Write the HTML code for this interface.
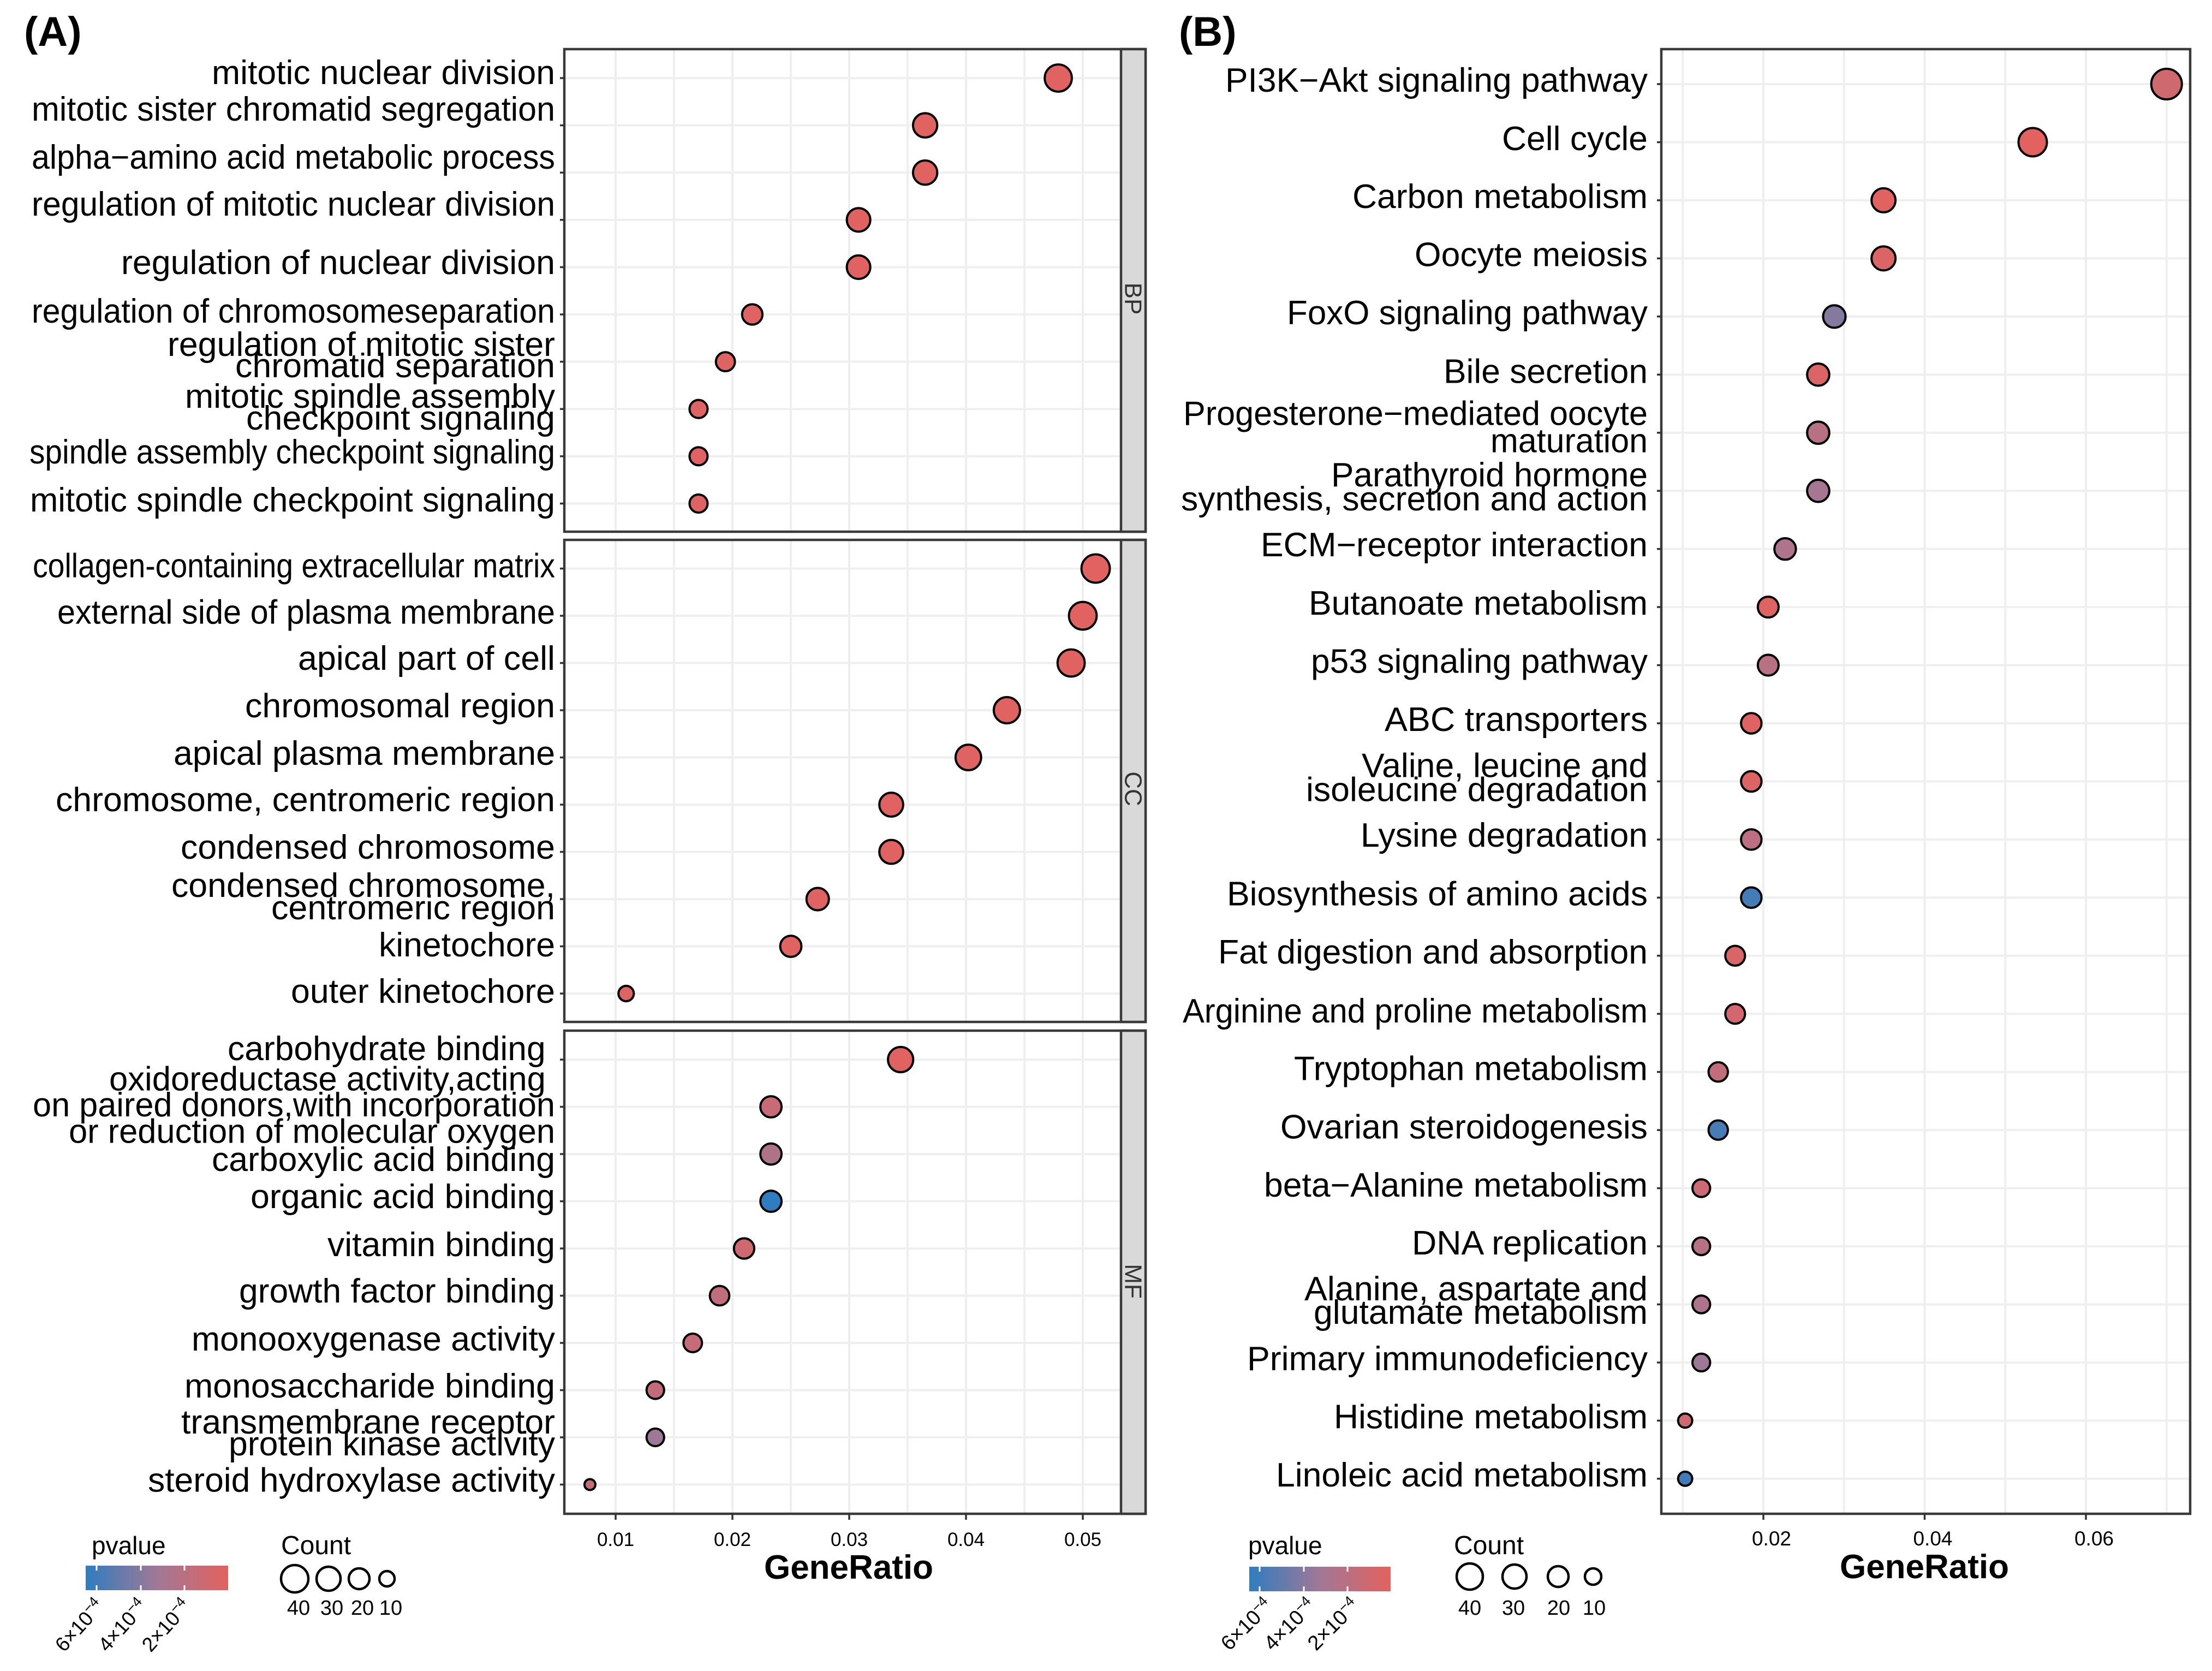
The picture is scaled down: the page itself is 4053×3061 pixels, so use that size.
<!DOCTYPE html>
<html lang="en">
<head>
<meta charset="utf-8">
<title>GO and KEGG enrichment dot plots</title>
<style>
html,body{margin:0;padding:0;background:#fff;}
svg{display:block;font-family:"Liberation Sans",Arial,sans-serif;}
</style>
</head>
<body>
<svg id="chart" xmlns="http://www.w3.org/2000/svg" width="4053" height="3061" viewBox="0 0 4053 3061">
  <defs>
    <linearGradient id="pgrad" x1="0" x2="1" y1="0" y2="0">
      <stop offset="0" stop-color="#2f7dc0"/>
      <stop offset="0.5" stop-color="#a07896"/>
      <stop offset="1" stop-color="#e3625f"/>
    </linearGradient>
  </defs>
  <rect width="4053" height="3061" fill="#fff"/>
  <text x="44" y="84" font-size="76" font-weight="700">(A)</text>
  <text x="2160" y="84" font-size="76" font-weight="700">(B)</text>
  <g id="layer-grid"></g>
  <g id="layer-frame"></g>
  <g id="layer-dots"></g>
  <g id="layer-text"></g>

  <text x="1555" y="2892" font-size="62" font-weight="700" text-anchor="middle">GeneRatio</text>
  <text x="3526" y="2891" font-size="62" font-weight="700" text-anchor="middle">GeneRatio</text>

  <g>
    <text x="168" y="2847" font-size="46">pvalue</text>
    <rect x="157" y="2868" width="261" height="45" fill="url(#pgrad)"/>
    <g stroke="#fff" stroke-width="3">
      <path d="M177 2868v9M177 2904v9M258 2868v9M258 2904v9M338 2868v9M338 2904v9"/>
    </g>
    <g font-size="37" text-anchor="end">
      <text transform="translate(193 2944) rotate(-48)">6×10<tspan font-size="26" dy="-14">−4</tspan></text>
      <text transform="translate(272 2944) rotate(-48)">4×10<tspan font-size="26" dy="-14">−4</tspan></text>
      <text transform="translate(352 2944) rotate(-48)">2×10<tspan font-size="26" dy="-14">−4</tspan></text>
    </g>
  </g>
  <g>
    <text x="515" y="2847" font-size="48">Count</text>
    <g fill="#fff" stroke="#000" stroke-width="4.5">
      <circle cx="540" cy="2892" r="25"/>
      <circle cx="602" cy="2892" r="22"/>
      <circle cx="658" cy="2892" r="19"/>
      <circle cx="709" cy="2892" r="14"/>
    </g>
    <g font-size="38" text-anchor="middle">
      <text x="547" y="2958">40</text>
      <text x="608" y="2958">30</text>
      <text x="664" y="2958">20</text>
      <text x="716" y="2958">10</text>
    </g>
  </g>

  <g>
    <text x="2287" y="2847" font-size="46">pvalue</text>
    <rect x="2289" y="2870" width="259" height="45" fill="url(#pgrad)"/>
    <g stroke="#fff" stroke-width="3">
      <path d="M2308 2870v9M2308 2906v9M2389 2870v9M2389 2906v9M2469 2870v9M2469 2906v9"/>
    </g>
    <g font-size="38" text-anchor="end">
      <text transform="translate(2334 2944) rotate(-45)">6×10<tspan font-size="26" dy="-14">−4</tspan></text>
      <text transform="translate(2413 2944) rotate(-45)">4×10<tspan font-size="26" dy="-14">−4</tspan></text>
      <text transform="translate(2493 2944) rotate(-45)">2×10<tspan font-size="26" dy="-14">−4</tspan></text>
    </g>
  </g>
  <g>
    <text x="2664" y="2847" font-size="48">Count</text>
    <g fill="#fff" stroke="#000" stroke-width="4.5">
      <circle cx="2693" cy="2888" r="24"/>
      <circle cx="2775" cy="2888" r="22"/>
      <circle cx="2855" cy="2888" r="19"/>
      <circle cx="2919" cy="2888" r="15"/>
    </g>
    <g font-size="38" text-anchor="middle">
      <text x="2693" y="2958">40</text>
      <text x="2773" y="2958">30</text>
      <text x="2856" y="2958">20</text>
      <text x="2921" y="2958">10</text>
    </g>
  </g>
</svg>
<script>
// ---------- Data ----------
const categoriesBP = ["mitotic nuclear division","mitotic sister chromatid segregation","alpha−amino acid metabolic process","regulation of mitotic nuclear division","regulation of nuclear division","regulation of chromosomeseparation","regulation of mitotic sister\nchromatid separation","mitotic spindle assembly\ncheckpoint signaling","spindle assembly checkpoint signaling","mitotic spindle checkpoint signaling"];
const geneRatioBP = [0.0479,0.0365,0.0365,0.0308,0.0308,0.0217,0.0194,0.0171,0.0171,0.0171];
const countBP = [39,30,30,28,28,20,17,15,15,15];
const pvalueBP = [0.00001,0.00001,0.00001,0.00001,0.00001,0.00002,0.00002,0.00002,0.00002,0.00002];

const categoriesCC = ["collagen-containing extracellular matrix","external side of plasma membrane","apical part of cell","chromosomal region","apical plasma membrane","chromosome, centromeric region","condensed chromosome","condensed chromosome,\ncentromeric region","kinetochore","outer kinetochore"];
const geneRatioCC = [0.0511,0.05,0.049,0.0435,0.0402,0.0336,0.0336,0.0273,0.025,0.0109];
const countCC = [43,41,39,36,34,29,29,25,22,10];
const pvalueCC = [0.00001,0.00001,0.00001,0.00001,0.00002,0.00001,0.00001,0.00002,0.00001,0.00003];

const categoriesMF = ["carbohydrate binding\u00A0","oxidoreductase activity,acting\u00A0\non paired donors,with incorporation\nor reduction of molecular oxygen","carboxylic acid binding","organic acid binding","vitamin binding","growth factor binding","monooxygenase activity","monosaccharide binding","transmembrane receptor\nprotein kinase activity","steroid hydroxylase activity"];
const geneRatioMF = [0.0344,0.0233,0.0233,0.0233,0.021,0.0189,0.0166,0.0134,0.0134,0.0078];
const countMF = [33,22,22,22,20,18,16,14,14,4];
const pvalueMF = [0.00001,0.000136,0.00025,0.00065,0.0001,0.00017,0.000145,0.000155,0.000335,0.00015];

const categoriesKEGG = ["PI3K−Akt signaling pathway","Cell cycle","Carbon metabolism","Oocyte meiosis","FoxO signaling pathway","Bile secretion","Progesterone−mediated oocyte\nmaturation","Parathyroid hormone\nsynthesis, secretion and action","ECM−receptor interaction","Butanoate metabolism","p53 signaling pathway","ABC transporters","Valine, leucine and\nisoleucine degradation","Lysine degradation","Biosynthesis of amino acids","Fat digestion and absorption","Arginine and proline metabolism","Tryptophan metabolism","Ovarian steroidogenesis","beta−Alanine metabolism","DNA replication","Alanine, aspartate and\nglutamate metabolism","Primary immunodeficiency","Histidine metabolism","Linoleic acid metabolism"];
const geneRatioKEGG = [0.07,0.0534,0.0349,0.0349,0.0288,0.0268,0.0268,0.0268,0.0227,0.0206,0.0206,0.0185,0.0185,0.0185,0.0185,0.0165,0.0165,0.0144,0.0144,0.0123,0.0123,0.0123,0.0123,0.0103,0.0103];
const countKEGG = [59,49,32,32,27,26,26,26,24,22,22,21,21,21,21,19,19,18,18,14,14,14,14,7,7];
const pvalueKEGG = [0.0001,0,0.00001,0.00004,0.0004,0.00004,0.00021,0.00029,0.00026,0.00002,0.00021,0.00002,0.00003,0.000195,0.00059,0.00005,0.00008,0.00016,0.00058,0.00012,0.00022,0.00026,0.00033,0.0001,0.0006];

const xTicksA = [0.01,0.02,0.03,0.04,0.05];
const xMinorA = [0.015,0.025,0.035,0.045,0.055];
const xTickLabelsA = ["0.01","0.02","0.03","0.04","0.05"];
const xTicksB = [0.02,0.04,0.06];
const xMinorB = [0.01,0.03,0.05,0.07];
const xTickLabelsB = ["0.02","0.04","0.06"];

// ---------- Hand-fitted label placement (layout, not data) ----------
const labelNudgeBP = [[11],[-8.6],[-7],[-8],[12.6],[15],[-10.6,28.4],[-2,38],[13],[14.6]];
const labelNudgeCC = [[16],[14.5],[12.5],[13],[13.5],[12],[12.5],[-4,37],[18.5],[17]];
const labelNudgeMF = [[1],[-29.8,17.5,66],[31],[12.5],[14],[12.5],[14],[13.5],[-7,33],[13]];
const labelNudgeKEGG = [[14],[14.5],[14],[14],[14],[15],[-14,36],[-8,36],[13.4],[14],[14],[14],[-8,36],[13],[14],[14],[16],[15],[15.5],[15.5],[15],[-7.5,35.5],[14],[14],[14]];
const fittedWidths = {
  "mitotic nuclear division":629,"mitotic sister chromatid segregation":959,"alpha−amino acid metabolic process":959,
  "regulation of mitotic nuclear division":959,"regulation of nuclear division":795,"regulation of chromosomeseparation":959,
  "regulation of mitotic sister":710,"chromatid separation":586,"mitotic spindle assembly":678,"checkpoint signaling":566,
  "spindle assembly checkpoint signaling":963,"mitotic spindle checkpoint signaling":962,
  "collagen-containing extracellular matrix":957,"external side of plasma membrane":912,"apical part of cell":471,
  "chromosomal region":568,"apical plasma membrane":699,"chromosome, centromeric region":915,"condensed chromosome":686,
  "condensed chromosome,":703,"centromeric region":520,"kinetochore":323,"outer kinetochore":484,
  "carbohydrate binding\u00A0":600,"oxidoreductase activity,acting\u00A0":817,"on paired donors,with incorporation":957,
  "or reduction of molecular oxygen":891,"carboxylic acid binding":629,"organic acid binding":558,"vitamin binding":417,
  "growth factor binding":579,"monooxygenase activity":666,"monosaccharide binding":679,"transmembrane receptor":685,
  "protein kinase activity":598,"steroid hydroxylase activity":746,
  "PI3K−Akt signaling pathway":774,"Cell cycle":267,"Carbon metabolism":541,"Oocyte meiosis":427,"FoxO signaling pathway":661,
  "Bile secretion":374,"Progesterone−mediated oocyte":851,"maturation":288,"Parathyroid hormone":580,
  "synthesis, secretion and action":855,"ECM−receptor interaction":709,"Butanoate metabolism":621,"p53 signaling pathway":617,
  "ABC transporters":482,"Valine, leucine and":524,"isoleucine degradation":626,"Lysine degradation":526,
  "Biosynthesis of amino acids":771,"Fat digestion and absorption":787,"Arginine and proline metabolism":852,
  "Tryptophan metabolism":648,"Ovarian steroidogenesis":673,"beta−Alanine metabolism":703,"DNA replication":432,
  "Alanine, aspartate and":629,"glutamate metabolism":612,"Primary immunodeficiency":734,"Histidine metabolism":575,
  "Linoleic acid metabolism":681
};

const NS = "http://www.w3.org/2000/svg";
const gridLayer = document.getElementById("layer-grid");
const frameLayer = document.getElementById("layer-frame");
const dotLayer = document.getElementById("layer-dots");
const textLayer = document.getElementById("layer-text");

function make(tag, attrs, parent, text) {
  const node = document.createElementNS(NS, tag);
  for (const k in attrs) node.setAttribute(k, attrs[k]);
  if (text !== undefined) node.textContent = text;
  parent.appendChild(node);
  return node;
}

// Axis functions
const xScaleA = v => 1128 + (v - 0.01) * 21400;
const xScaleB = v => 3231 + (v - 0.02) * 14775;
const radiusA = c => 5 + 3.5 * Math.sqrt(c);
const radiusB = c => 7 + 3 * Math.sqrt(c);
const pMax = 0.00065;
function pColor(p) {
  const t = Math.max(0, Math.min(1, p / pMax));
  const stops = [[227, 98, 95], [160, 120, 150], [47, 125, 192]];
  const k = t < 0.5 ? 0 : 1;
  const f = (t - k * 0.5) * 2;
  const c = stops[k].map((l, i) => Math.round(l + (stops[k + 1][i] - l) * f));
  return "rgb(" + c.join(",") + ")";
}

function drawPanel(cfg) {
  const rowY = i => cfg.firstRow + cfg.step * i;
  const left = cfg.left, right = cfg.right, top = cfg.top, bottom = cfg.bottom;

  cfg.minor.forEach(v => {
    const ln = make("line", {x1: cfg.x(v), x2: cfg.x(v), y1: top, y2: bottom, stroke: "#efefef", "stroke-width": 4}, gridLayer);
    
    
  });
  cfg.ticks.forEach(v => {
    const ln = make("line", {x1: cfg.x(v), x2: cfg.x(v), y1: top, y2: bottom, stroke: "#eeeeee", "stroke-width": 4}, gridLayer);
    
    
  });
  cfg.cats.forEach((c, i) => {
    const ln = make("line", {x1: left, x2: right, y1: rowY(i), y2: rowY(i), stroke: "#efefef", "stroke-width": 4}, gridLayer);
    
    
  });

  const frame = make("rect", {x: left, y: top, width: (cfg.stripRight || right) - left, height: bottom - top, fill: "none", stroke: "#3a3a3a", "stroke-width": 4.5}, frameLayer);
  
  

  if (cfg.strip) {
    const s = make("rect", {x: right, y: top, width: cfg.stripRight - right, height: bottom - top, fill: "#d9d9d9", stroke: "#3a3a3a", "stroke-width": 4.5}, frameLayer);
    
    
    const st = make("text", {transform: "translate(" + ((right + cfg.stripRight) / 2 - 15) + " " + cfg.stripY + ") rotate(90)", "font-size": 44, fill: "#333", "text-anchor": "middle"}, textLayer, cfg.strip);
    
    
  }

  cfg.cats.forEach((c, i) => {
    const t = make("line", {x1: left - 8, x2: left, y1: rowY(i), y2: rowY(i), stroke: "#333", "stroke-width": 3.5}, frameLayer);
    
    
    const lines = c.split("\n");
    lines.forEach((line, j) => {
      const attrs = {x: cfg.labelRight, y: rowY(i) + cfg.nudge[i][j], "font-size": cfg.labelSize, "text-anchor": "end", fill: "#000"};
      if (fittedWidths[line]) { attrs.textLength = fittedWidths[line]; attrs.lengthAdjust = "spacingAndGlyphs"; }
      const lab = make("text", attrs, textLayer, line);
      
      
    });
    const dot = make("circle", {cx: cfg.x(cfg.ratio[i]), cy: rowY(i), r: cfg.r(cfg.count[i]) - 2, fill: pColor(cfg.p[i]), stroke: "#000", "stroke-width": 4}, dotLayer);
    
    
  });
}

function drawXAxis(ticks, labels, x, bottom, size, dx, base, id) {
  ticks.forEach((v, i) => {
    const t = make("line", {x1: x(v), x2: x(v), y1: bottom, y2: bottom + 11, stroke: "#333", "stroke-width": 3.5}, frameLayer);
    
    
    const lab = make("text", {x: x(v) + dx, y: base, "font-size": size, "text-anchor": "middle"}, textLayer, labels[i]);
    
    
  });
}

const commonA = {left: 1034, right: 2054, stripRight: 2099, labelRight: 1017, labelSize: 62, x: xScaleA, r: radiusA, ticks: xTicksA, minor: xMinorA};
drawPanel(Object.assign({}, commonA, {id: "bp", strip: "BP", stripY: 547, top: 90, bottom: 974, firstRow: 143, step: 86.6, cats: categoriesBP, ratio: geneRatioBP, count: countBP, p: pvalueBP, nudge: labelNudgeBP}));
drawPanel(Object.assign({}, commonA, {id: "cc", strip: "CC", stripY: 1445, top: 989, bottom: 1872, firstRow: 1041.5, step: 86.5, cats: categoriesCC, ratio: geneRatioCC, count: countCC, p: pvalueCC, nudge: labelNudgeCC}));
drawPanel(Object.assign({}, commonA, {id: "mf", strip: "MF", stripY: 2347, top: 1888, bottom: 2773, firstRow: 1941, step: 86.5, cats: categoriesMF, ratio: geneRatioMF, count: countMF, p: pvalueMF, nudge: labelNudgeMF}));
drawPanel({id: "kegg", left: 3044, right: 4013, labelRight: 3019, labelSize: 62, x: xScaleB, r: radiusB, ticks: xTicksB, minor: xMinorB, top: 90, bottom: 2773, firstRow: 154, step: 106.45, cats: categoriesKEGG, ratio: geneRatioKEGG, count: countKEGG, p: pvalueKEGG, nudge: labelNudgeKEGG});

drawXAxis(xTicksA, xTickLabelsA, xScaleA, 2773, 35, 0, 2832, "a");
drawXAxis(xTicksB, xTickLabelsB, xScaleB, 2773, 37, 15, 2831, "b");
</script>
</body>
</html>
